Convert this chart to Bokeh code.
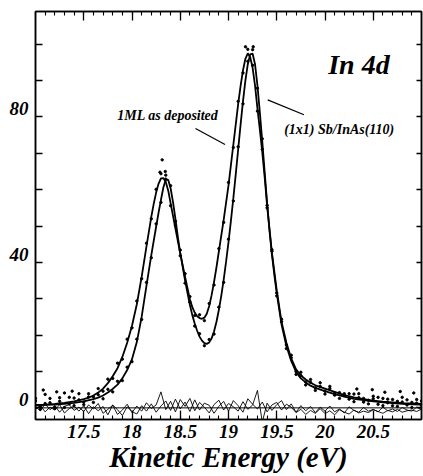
from bokeh.plotting import figure
from bokeh.models import Range1d, LinearAxis, FixedTicker, Span, Label
from bokeh.embed import file_html
from bokeh.resources import INLINE

# ---------------- data ----------------
# fitted curves
fit_a_x = [17.0, 17.1, 17.2, 17.3, 17.4, 17.5, 17.55, 17.6, 17.65, 17.7, 17.75, 17.8, 17.85, 17.9, 17.95, 18.0,
           18.05, 18.1, 18.15, 18.2, 18.225, 18.25, 18.275, 18.3, 18.325, 18.35, 18.375, 18.4, 18.425, 18.45,
           18.5, 18.55, 18.6, 18.625, 18.65, 18.675, 18.7, 18.725, 18.75, 18.775, 18.8, 18.825, 18.85, 18.875,
           18.9, 18.95, 19.0, 19.05, 19.1, 19.125, 19.15, 19.175, 19.2, 19.225, 19.25, 19.275, 19.3, 19.325,
           19.35, 19.375, 19.4, 19.45, 19.5, 19.55, 19.6, 19.65, 19.7, 19.75, 19.8, 19.85, 19.9, 20.0, 20.1,
           20.2, 20.3, 20.4, 20.5, 20.6, 20.7, 20.8, 20.9, 21.0]
fit_a_y = [0.8, 0.9, 1.1, 1.4, 1.8, 2.4, 2.8, 3.4, 4.2, 5.3, 6.8, 8.7, 10.9, 14.0, 17.9, 22.6,
           28.5, 36.0, 44.4, 52.5, 56.1, 59.2, 61.6, 63.1, 63.2, 62.1, 59.8, 56.3, 52.8, 49.3,
           42.5, 36.0, 29.8, 27.7, 26.2, 25.2, 24.7, 24.5, 24.8, 25.9, 28.0, 31.0, 34.6, 38.6,
           43.0, 51.7, 61.2, 72.3, 83.5, 88.5, 92.8, 96.0, 97.5, 96.4, 93.5, 88.6, 82.3, 76.5,
           70.3, 63.4, 55.6, 42.6, 32.3, 23.6, 17.9, 13.6, 10.6, 8.9, 7.8, 6.9, 6.2, 5.3, 4.4,
           3.5, 2.9, 2.4, 2.0, 1.7, 1.5, 1.3, 1.2, 1.1]

fit_b_x = [17.0, 17.1, 17.2, 17.3, 17.4, 17.5, 17.6, 17.65, 17.7, 17.75, 17.8, 17.85, 17.9, 17.95, 18.0, 18.05,
           18.1, 18.15, 18.2, 18.25, 18.275, 18.3, 18.325, 18.35, 18.375, 18.4, 18.425, 18.45, 18.475, 18.5,
           18.55, 18.6, 18.625, 18.65, 18.675, 18.7, 18.725, 18.75, 18.775, 18.8, 18.825, 18.85, 18.875, 18.9,
           18.925, 18.95, 18.975, 19.0, 19.025, 19.05, 19.075, 19.1, 19.125, 19.15, 19.175, 19.2, 19.225, 19.25,
           19.275, 19.3, 19.325, 19.35, 19.375, 19.4, 19.425, 19.45, 19.475, 19.5, 19.55, 19.6, 19.65, 19.7,
           19.75, 19.8, 19.85, 19.9, 20.0, 20.1, 20.2, 20.3, 20.4, 20.5, 20.6, 20.7, 20.8, 20.9, 21.0]
fit_b_y = [0.7, 0.8, 0.9, 1.1, 1.4, 1.8, 2.4, 2.8, 3.4, 4.2, 5.2, 6.4, 8.1, 10.4, 13.4, 18.1,
           25.0, 33.6, 42.0, 49.8, 53.6, 57.2, 60.6, 62.8, 62.7, 60.4, 56.6, 52.0, 47.0, 42.6,
           35.0, 28.3, 25.5, 23.2, 21.2, 19.6, 18.5, 17.8, 17.6, 18.0, 19.1, 21.0, 23.6, 26.9,
           30.8, 35.2, 40.2, 45.6, 51.4, 57.6, 64.2, 71.0, 77.8, 84.3, 90.0, 94.5, 97.2, 97.4,
           94.5, 88.6, 81.2, 73.2, 64.8, 56.4, 48.7, 42.2, 36.6, 31.5, 22.9, 17.0, 12.9, 9.9,
           8.1, 7.0, 6.1, 5.5, 4.6, 3.8, 3.1, 2.5, 2.1, 1.8, 1.5, 1.3, 1.1, 1.0, 0.9]

# measured points (energy grid shared by both spectra)
energy = [17.0, 17.05, 17.1, 17.15, 17.2, 17.25, 17.3, 17.35, 17.4, 17.45, 17.5, 17.55, 17.6, 17.65,
          17.7, 17.75, 17.8, 17.85, 17.9, 17.95, 18.0, 18.05, 18.1, 18.15, 18.2, 18.25, 18.3, 18.35,
          18.4, 18.45, 18.5, 18.55, 18.6, 18.65, 18.7, 18.75, 18.8, 18.85, 18.9, 18.95, 19.0, 19.05,
          19.1, 19.15, 19.2, 19.25, 19.3, 19.35, 19.4, 19.45, 19.5, 19.55, 19.6, 19.65, 19.7, 19.75,
          19.8, 19.85, 19.9, 19.95, 20.0, 20.05, 20.1, 20.15, 20.2, 20.25, 20.3, 20.35, 20.4, 20.45,
          20.5, 20.55, 20.6, 20.65, 20.7, 20.75, 20.8, 20.85, 20.9, 20.95, 21.0]
pts_a = [2.6, 0.3, 3.7, 1.4, 0.2, 2.8, 4.1, 1.1, 2.7, 3.9,
         1.6, 3.9, 3.0, 5.3, 4.6, 7.9, 8.1, 12.3, 13.4, 18.9,
         22.0, 29.4, 35.5, 45.3, 52.0, 60.1, 64.4, 62.9, 55.6, 50.2,
         41.8, 36.9, 30.6, 25.4, 25.6, 24.0, 28.7, 33.8, 43.8, 51.0,
         62.0, 71.6, 84.3, 92.1, 98.6, 94.2, 81.6, 71.1, 55.0, 43.5,
         31.6, 24.4, 17.3, 14.5, 10.0, 9.8, 7.1, 7.8, 5.5, 6.9,
         4.6, 5.9, 3.5, 4.2, 3.9, 2.4, 3.8, 3.9, 1.6, 2.1,
         3.2, 1.0, 2.6, 2.4, 0.6, 1.8, 2.9, 0.8, 1.5, 2.3, 0.7]
pts_b = [1.9, -0.4, 1.2, 2.6, -0.2, 1.8, 0.1, 2.9, 0.6, 2.2,
         0.9, 3.0, 1.5, 3.6, 2.5, 5.1, 4.4, 7.3, 7.5, 11.2,
         12.7, 18.9, 24.3, 34.5, 41.3, 50.6, 56.5, 64.0, 61.1, 51.3,
         43.4, 34.3, 29.1, 22.5, 20.4, 17.1, 18.8, 20.3, 27.7, 34.5,
         46.4, 56.9, 71.8, 83.6, 95.3, 98.5, 87.9, 74.0, 55.7, 43.1,
         30.8, 23.7, 16.3, 13.8, 9.2, 8.9, 6.3, 7.0, 4.8, 5.9,
         3.8, 5.3, 4.1, 2.6, 3.4, 3.9, 1.7, 2.8, 2.6, 1.1,
         2.5, 2.9, 0.6, 1.4, 2.3, 0.4, 1.6, 2.2, 0.1, 1.3, 1.9]
extra_x = [18.29, 18.313, 18.345, 19.176, 19.256, 17.08, 17.22, 17.38, 20.33, 20.49, 20.62, 20.78, 20.92]
extra_y = [64.8, 68.2, 65.0, 99.3, 99.3, 4.9, 4.4, 4.6, 5.2, 5.0, 4.3, 4.5, 4.1]

# residuals of the two fits
res_a = [0.3, -0.8, 1.1, -0.5, 0.6, -1.2, 0.4, 0.9, -0.7, 0.2,
         -1.0, 0.8, -0.3, 1.2, -1.5, -0.4, 0.7, -1.8, -0.6, 1.0,
         -1.3, 0.5, -0.9, 1.4, -0.2, 0.8, 4.4, -0.5, 1.8, -1.1,
         2.3, 0.4, 2.6, -0.8, 1.5, 0.2, -1.4, 0.9, 2.1, -0.6,
         1.2, 0.3, -0.9, 1.7, -0.4, 0.8, 4.8, -3.9, 1.3, -0.7,
         0.9, 2.0, -0.5, 1.1, -1.2, 0.6, -0.8, 0.4, -1.3, 0.2,
         -0.9, 0.5, -1.1, -0.3, -1.4, 0.3, -0.7, -1.2, 0.1, -0.9,
         -0.4, -1.1, 0.2, -0.8, -0.3, -1.0, 0.1, -0.6, -0.9, 0.2, -0.5]
res_b = [-0.4, 0.7, -1.1, 0.2, -0.6, 0.9, -1.4, -0.2, 0.5, -0.9,
         0.6, -1.6, 0.3, -0.8, 0.4, -1.9, 0.8, -0.5, -2.1, 0.3,
         -1.0, -1.7, 0.6, -0.9, 1.1, -1.2, 0.5, 1.9, -0.7, 2.4,
         -0.3, 1.6, -1.0, 2.2, -0.6, 1.3, 0.7, -1.5, 0.4, 1.8,
         -0.9, 2.0, 0.6, -1.2, 2.5, 1.0, -0.3, 1.6, -1.1, 0.8,
         1.5, -0.6, 1.0, 0.2, -1.3, -0.4, -1.8, -0.7, -1.5, -0.2,
         -1.6, -0.8, -1.9, -0.5, -1.2, -1.7, -0.6, -1.4, -0.9, -1.3,
         -0.5, -1.0, -1.5, -0.7, -1.1, -0.4, -1.2, -0.8, -0.6, -1.0, -0.3]

# axes ticks / labels
x_ticks = [17.5, 18.0, 18.5, 19.0, 19.5, 20.0, 20.5]
x_tick_labels = ["17.5", "18", "18.5", "19", "19.5", "20", "20.5"]
y_ticks = [0, 40, 80]
y_minor = [0, 10, 20, 30, 40, 50, 60, 70, 80, 90, 100]
x_minor = [round(17.0 + 0.1 * i, 1) for i in range(41)]

# annotation texts and leader lines
title_text = "In 4d"
label_a = "1ML as deposited"
label_b = "(1x1) Sb/InAs(110)"
lead_x0 = [18.658, 19.406]
lead_y0 = [76.8, 84.7]
lead_x1 = [18.964, 19.782]
lead_y1 = [72.4, 80.6]

# ---------------- figure ----------------
SERIF = "Liberation Serif"
Y0, Y1 = -3.2, 109.0
LABEL_SHIFT = 2.2   # y labels sit ~8 px above their ticks in the original

p = figure(width=423, height=476, x_range=Range1d(17.0, 21.0), y_range=Range1d(Y0, Y1),
           output_backend="svg", toolbar_location=None,
           min_border_left=35, min_border_right=2, min_border_top=11, min_border_bottom=57)
p.extra_y_ranges = {"lab": Range1d(Y0 - LABEL_SHIFT, Y1 - LABEL_SHIFT)}
p.background_fill_color = "white"
p.border_fill_color = "white"
p.outline_line_color = "black"
p.outline_line_width = 1.5
p.xgrid.visible = False
p.ygrid.visible = False

xa = p.xaxis[0]
xa.ticker = FixedTicker(ticks=x_ticks, minor_ticks=x_minor)
xa.major_label_overrides = {t: s for t, s in zip(x_ticks, x_tick_labels)}
xa.major_tick_in = 9
xa.major_tick_out = 0
xa.minor_tick_in = 4
xa.minor_tick_out = 0
xa.axis_line_width = 1.5
xa.major_tick_line_width = 1.3
xa.minor_tick_line_width = 1.1
xa.major_label_text_font = SERIF
xa.major_label_text_font_style = "bold italic"
xa.major_label_text_font_size = "19px"
xa.major_label_text_color = "black"
xa.major_label_standoff = 5
xa.axis_label = "Kinetic Energy (eV)"
xa.axis_label_text_font = SERIF
xa.axis_label_text_font_style = "bold italic"
xa.axis_label_text_font_size = "29px"
xa.axis_label_text_color = "black"
xa.axis_label_standoff = 0

# left axis: ticks only (every 10, all the same length)
ya = p.yaxis[0]
ya.ticker = FixedTicker(ticks=[], minor_ticks=y_minor)
ya.major_tick_in = 7
ya.major_tick_out = 0
ya.minor_tick_in = 7
ya.minor_tick_out = 0
ya.axis_line_width = 1.5
ya.minor_tick_line_width = 1.3
ya.major_label_standoff = 0

# left labels axis on a slightly shifted range (labels only)
lab = LinearAxis(y_range_name="lab", ticker=FixedTicker(ticks=y_ticks, minor_ticks=[]),
                 major_tick_in=0, major_tick_out=0, minor_tick_in=0, minor_tick_out=0,
                 axis_line_color=None, major_tick_line_color=None, minor_tick_line_color=None,
                 major_label_standoff=7, major_label_text_font=SERIF,
                 major_label_text_font_style="bold italic", major_label_text_font_size="19px",
                 major_label_text_color="black")
p.add_layout(lab, "left")

top = LinearAxis(ticker=FixedTicker(ticks=x_ticks, minor_ticks=x_minor),
                 major_tick_in=9, major_tick_out=0, minor_tick_in=4, minor_tick_out=0,
                 axis_line_width=1.5, major_tick_line_width=1.3, minor_tick_line_width=1.1,
                 major_label_text_color=None, major_label_standoff=0)
p.add_layout(top, "above")
right = LinearAxis(ticker=FixedTicker(ticks=[], minor_ticks=y_minor),
                   major_tick_in=5, major_tick_out=0, minor_tick_in=5, minor_tick_out=0,
                   axis_line_width=1.5, minor_tick_line_width=1.3,
                   major_label_text_color=None, major_label_standoff=0)
p.add_layout(right, "right")

# zero line and residuals
p.add_layout(Span(location=0, dimension="width", line_color="black", line_width=1))
p.line(energy, res_a, line_color="black", line_width=0.9)
p.line(energy, res_b, line_color="black", line_width=0.9)

# fits
p.line(fit_a_x, fit_a_y, line_color="black", line_width=1.8)
p.line(fit_b_x, fit_b_y, line_color="black", line_width=1.8)

# data points
p.scatter(energy, pts_a, size=2.4, color="black")
p.scatter(energy, pts_b, size=2.4, color="black")
p.scatter(extra_x, extra_y, size=2.4, color="black")

# leader lines
p.segment(x0=lead_x0, y0=lead_y0, x1=lead_x1, y1=lead_y1, line_color="black", line_width=1.2)

# texts
p.add_layout(Label(x=20.033, y=94.4, text=title_text, text_font=SERIF, text_font_style="bold italic",
                   text_font_size="28px", text_baseline="middle", text_color="black"))
p.add_layout(Label(x=17.847, y=80.5, text=label_a, text_font=SERIF, text_font_style="bold italic",
                   text_font_size="14px", text_baseline="middle", text_color="black"))
p.add_layout(Label(x=19.577, y=76.5, text=label_b, text_font=SERIF, text_font_style="bold italic",
                   text_font_size="14px", text_baseline="middle", text_color="black"))

open("out.html", "w").write(file_html(p, INLINE))
